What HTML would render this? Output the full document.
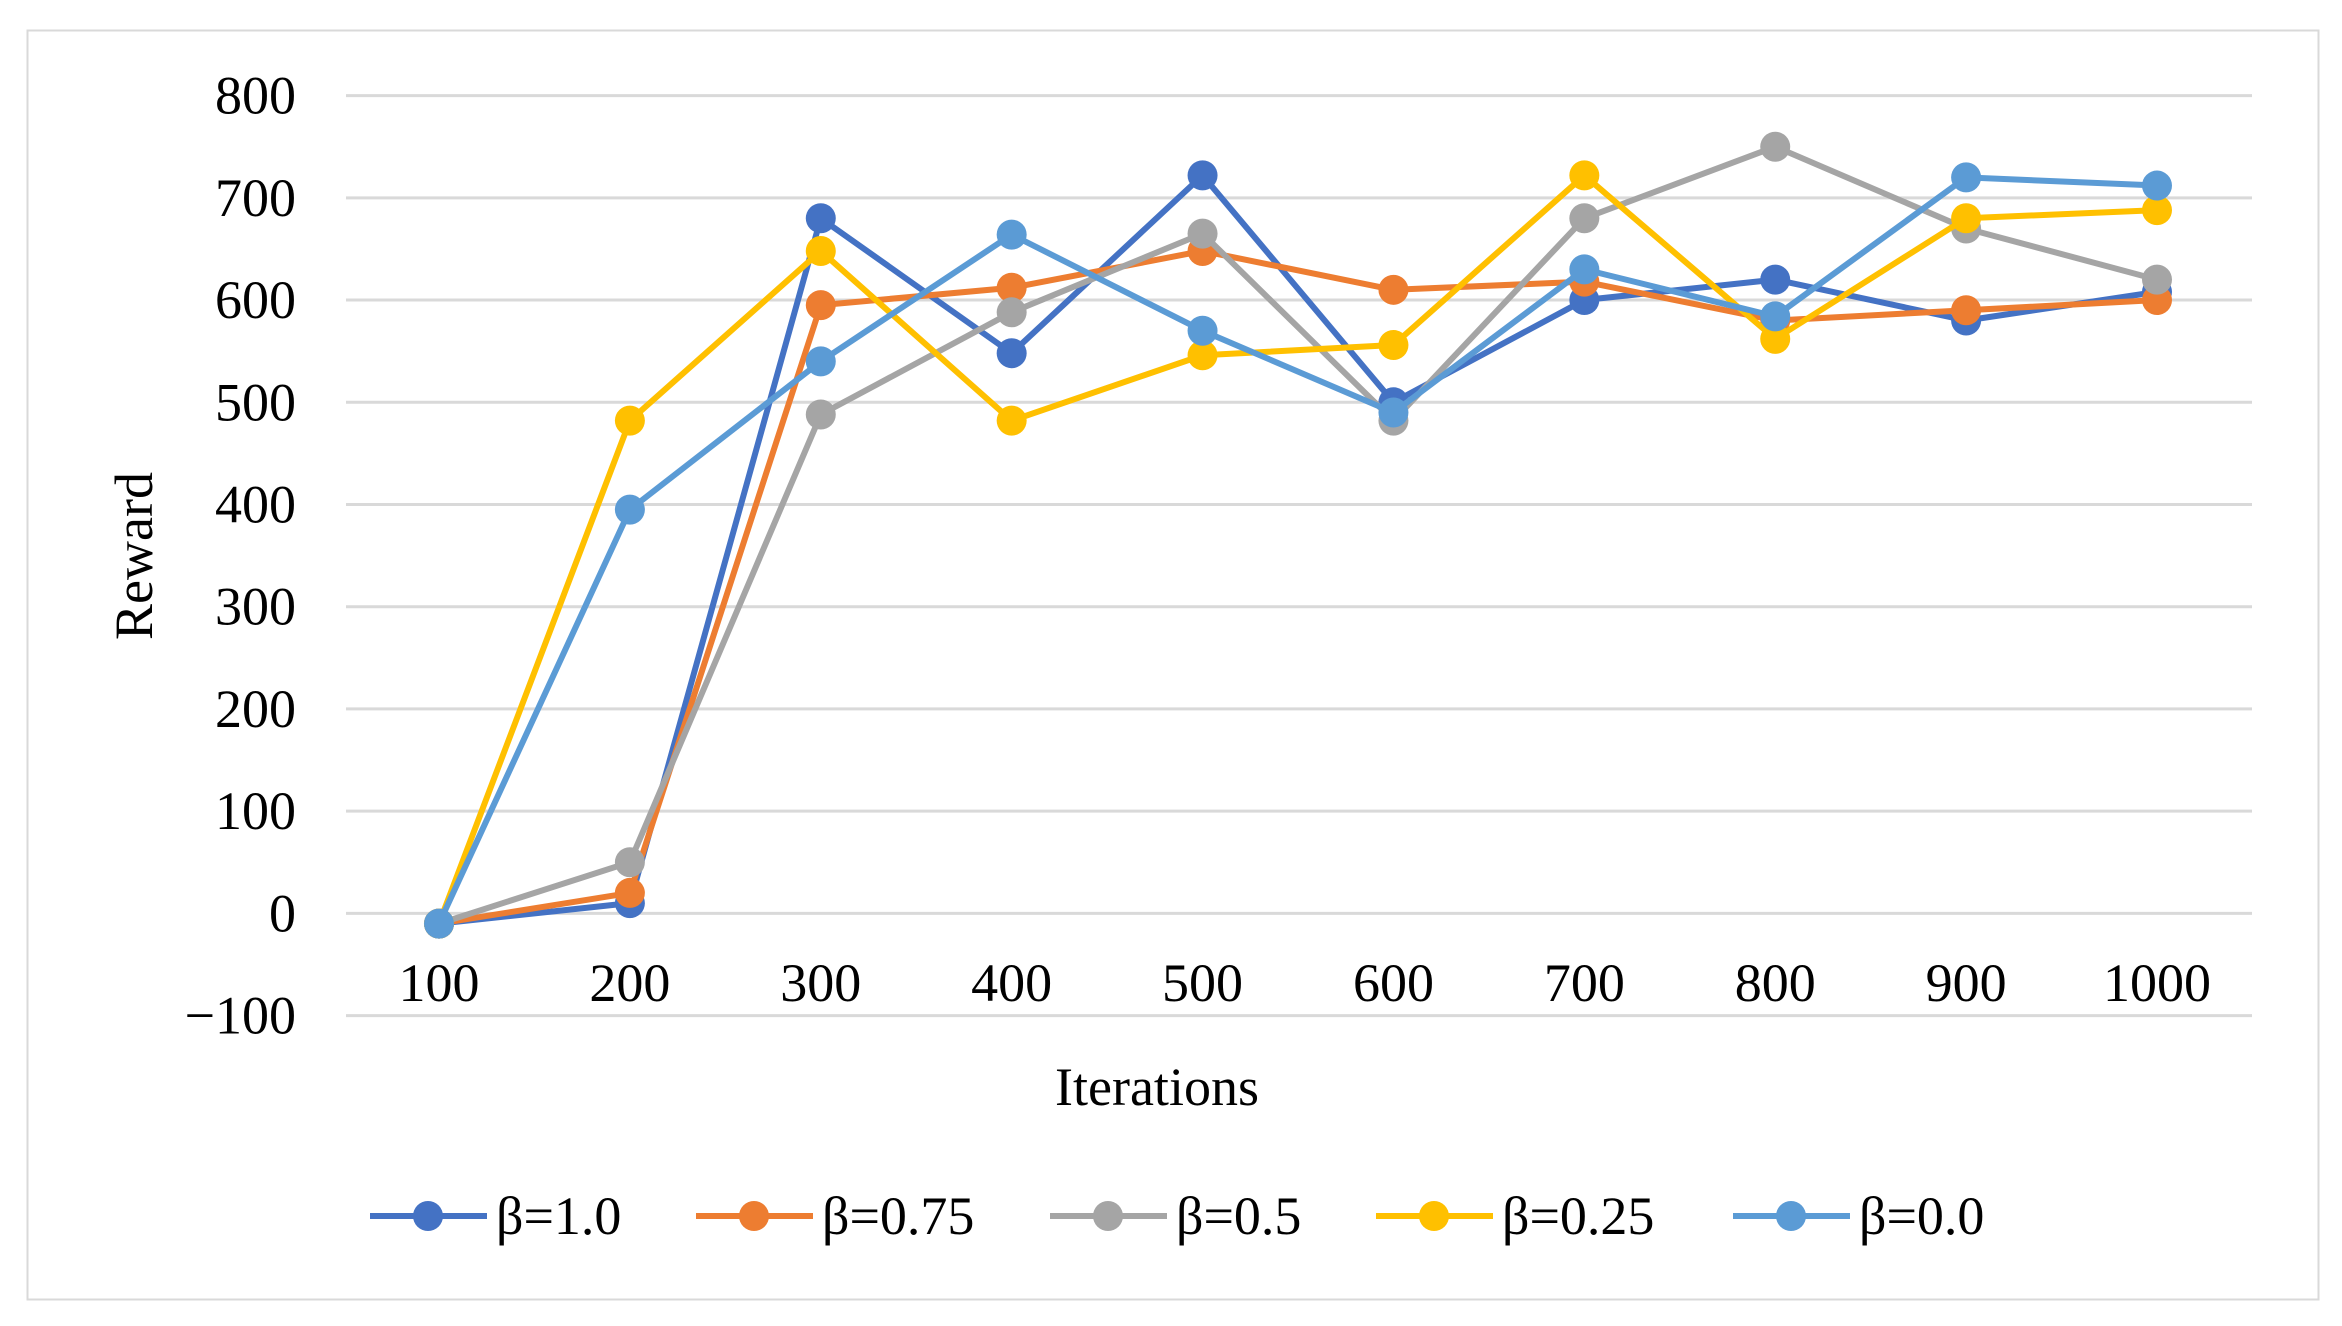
<!DOCTYPE html>
<html><head><meta charset="utf-8"><style>
html,body{margin:0;padding:0;background:#fff;}
svg{display:block;font-family:"Liberation Serif",serif;}
</style></head><body>
<svg id="chart" width="2342" height="1326" viewBox="0 0 2342 1326" xmlns="http://www.w3.org/2000/svg">
<rect x="27.5" y="30.5" width="2291" height="1269" fill="#fff" stroke="#d9d9d9" stroke-width="2"/>
<g id="grid"></g><g id="ylabels"></g><g id="xlabels"></g><g id="series"></g><g id="legend"></g>
<text x="1157" y="1105" font-size="54" text-anchor="middle">Iterations</text>
<text x="0" y="0" font-size="54" text-anchor="middle" transform="translate(152,556) rotate(-90)">Reward</text>
</svg>
<script>
const categories=["100","200","300","400","500","600","700","800","900","1000"];
const yTicks=[-100,0,100,200,300,400,500,600,700,800];
const seriesNames=["β=1.0","β=0.75","β=0.5","β=0.25","β=0.0"];
const s1=[-10,10,680,548,722,500,600,620,580,608];
const s2=[-10,20,595,612,648,610,618,580,590,600];
const s3=[-10,50,488,588,665,482,680,750,670,620];
const s4=[-10,482,648,482,546,556,722,562,680,688];
const s5=[-10,395,540,664,570,490,630,584,720,712];
const seriesData=[s1,s2,s3,s4,s5];
const colors=["#4472C4","#ED7D31","#A5A5A5","#FFC000","#5B9BD5"];
const NS="http://www.w3.org/2000/svg";
const L=346,R=2252,Y0=1015.6,Y1=95.6,ymin=-100,ymax=800;
const X0=439,X1=2157;
function y(v){return Y0-(v-ymin)/(ymax-ymin)*(Y0-Y1);}
function x(i){return X0+i*(X1-X0)/(categories.length-1);}
function mk(t,a,p){const e=document.createElementNS(NS,t);for(const k in a)e.setAttribute(k,a[k]);p.appendChild(e);return e;}
const grid=document.getElementById('grid'),yl=document.getElementById('ylabels'),xl=document.getElementById('xlabels');
yTicks.forEach(v=>{
 const g=mk('line',{x1:L,x2:R,y1:y(v),y2:y(v),stroke:'#d9d9d9','stroke-width':3},grid);
 
 
 const t=mk('text',{x:296,y:y(v)+18,'font-size':54,'text-anchor':'end'},yl);
 t.textContent=v<0?'\u2212'+Math.abs(v):String(v);
 
 
});
categories.forEach((c,i)=>{
 const t=mk('text',{x:x(i),y:1001,'font-size':54,'text-anchor':'middle'},xl);
 t.textContent=c;
 
 
});
const sg=document.getElementById('series');
seriesData.forEach((d,k)=>{
 const g=mk('g',{},sg);
 
 
 const pl=mk('polyline',{points:d.map((v,i)=>x(i)+','+y(v)).join(' '),fill:'none',stroke:colors[k],'stroke-width':6,'stroke-linejoin':'round'},g);
 
 
 d.forEach((v,i)=>{
  const c=mk('circle',{cx:x(i),cy:y(v),r:15,fill:colors[k]},g);
  
  
 });
});
const lg=document.getElementById('legend');
const lx=[370,696,1050,1376,1733];
seriesNames.forEach((n,k)=>{
 const g=mk('g',{},lg);
 
 
 mk('line',{x1:lx[k],x2:lx[k]+117,y1:1216,y2:1216,stroke:colors[k],'stroke-width':6},g);
 mk('circle',{cx:lx[k]+58,cy:1216,r:15,fill:colors[k]},g);
 const t=mk('text',{x:lx[k]+126,y:1234,'font-size':54},g);
 t.textContent=n;
});
</script>
</body></html>
